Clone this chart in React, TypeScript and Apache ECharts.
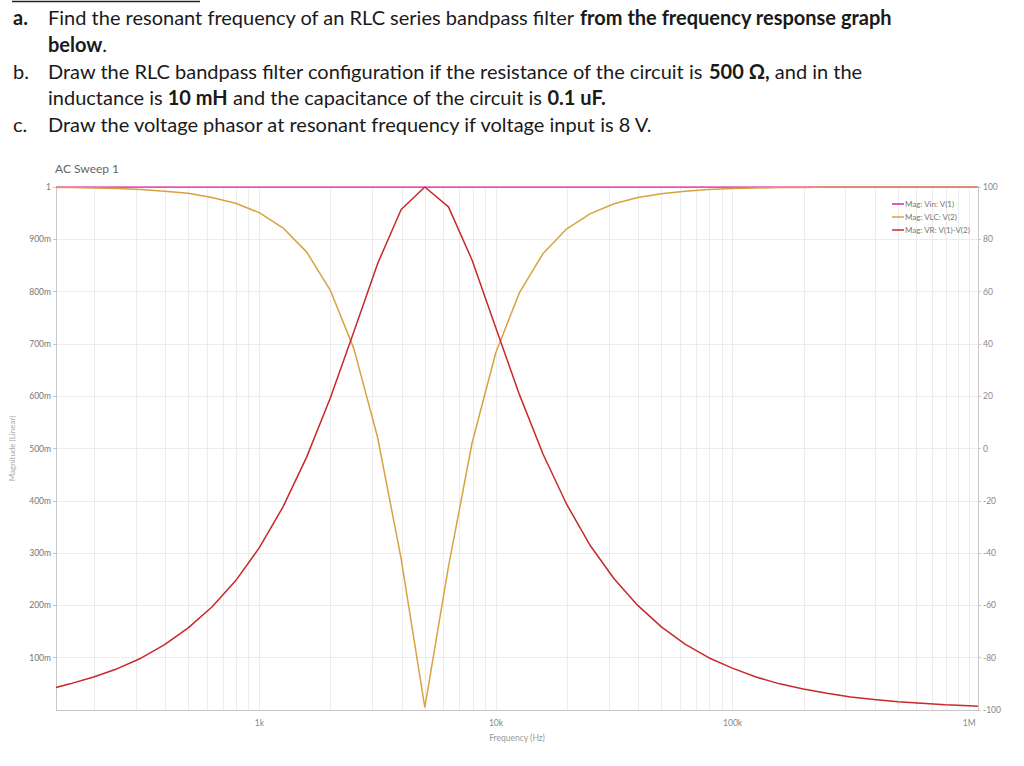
import React, { useEffect, useRef } from 'react';
import * as echarts from 'echarts';

// Sweep frequencies (Hz)
const freqs = [138, 158.1, 199.1, 250.6, 315.5, 397.2, 500, 629.5, 792.5, 997.6, 1256, 1581, 1991, 2506, 3155, 3972, 5000, 6295, 7924, 9976, 12559, 15811, 19905, 25059, 31548, 39716, 50000, 62946, 79245, 99763, 125594, 158114, 199054, 250594, 315479, 397164, 500000, 629463, 792447, 997631, 1090000];
// Mag: Vin: V(1)
const vin = [1, 1, 1, 1, 1, 1, 1, 1, 1, 1, 1, 1, 1, 1, 1, 1, 1, 1, 1, 1, 1, 1, 1, 1, 1, 1, 1, 1, 1, 1, 1, 1, 1, 1, 1, 1, 1, 1, 1, 1, 1];
// Mag: VLC: V(2)
const vlc = [0.999, 0.999, 0.998, 0.997, 0.995, 0.992, 0.988, 0.98, 0.969, 0.951, 0.922, 0.876, 0.803, 0.691, 0.522, 0.289, 0.005, 0.274, 0.511, 0.683, 0.798, 0.873, 0.92, 0.949, 0.968, 0.98, 0.987, 0.992, 0.995, 0.997, 0.998, 0.999, 0.999, 1, 1, 1, 1, 1, 1, 1, 1];
// Mag: VR: V(1)-V(2)
const vr = [0.043, 0.05, 0.063, 0.079, 0.099, 0.125, 0.157, 0.197, 0.247, 0.31, 0.388, 0.483, 0.596, 0.723, 0.853, 0.957, 1.0, 0.962, 0.86, 0.731, 0.603, 0.489, 0.393, 0.314, 0.251, 0.2, 0.159, 0.126, 0.1, 0.08, 0.063, 0.05, 0.04, 0.032, 0.025, 0.02, 0.016, 0.013, 0.01, 0.008, 0.007];

const seriesNames = ['Mag: Vin: V(1)', 'Mag: VLC: V(2)', 'Mag: VR: V(1)-V(2)'];
const seriesColors = ['#e0229f', '#d9a23e', '#c9282a'];

const xTickValues = [1000, 10000, 100000, 1000000];
const xTickLabels = ['1k', '10k', '100k', '1M'];
const gridFreqs = [200, 300, 400, 500, 600, 700, 800, 900, 1000, 2000, 3000, 4000, 5000, 6000, 7000, 8000, 9000, 10000, 20000, 30000, 40000, 50000, 60000, 70000, 80000, 90000, 100000, 200000, 300000, 400000, 500000, 600000, 700000, 800000, 900000, 1000000];

const questionLines = [
  { marker: 'a.', markerBold: true, parts: [['Find the resonant frequency of an RLC series bandpass filter ', false], ['from the frequency response graph', true]] },
  { marker: '', markerBold: false, parts: [['below', true], ['.', false]] },
  { marker: 'b.', markerBold: false, parts: [['Draw the RLC bandpass filter configuration if the resistance of the circuit is ', false], ['500 \u03a9,', true], [' and in the', false]] },
  { marker: '', markerBold: false, parts: [['inductance is ', false], ['10 mH', true], [' and the capacitance of the circuit is ', false], ['0.1 uF.', true]] },
  { marker: 'c.', markerBold: false, parts: [['Draw the voltage phasor at resonant frequency if voltage input is 8 V.', false]] },
];

export default function App() {
  const ref = useRef<HTMLDivElement>(null);
  useEffect(() => {
    if (!ref.current) return;
    const chart = echarts.init(ref.current, null, { renderer: 'svg' });
    const textFont = 'Lato, "Open Sans", sans-serif';
    const qSize = 20;
    const graphics: any[] = [
      { type: 'line', shape: { x1: 12, y1: 1.5, x2: 200, y2: 1.5 }, style: { stroke: '#222', lineWidth: 1.5 } },
      { type: 'text', x: 55, y: 168, style: { text: 'AC Sweep 1', fill: '#666', font: '12px Lato, sans-serif', verticalAlign: 'middle' } },
    ];
    questionLines.forEach((ln, i) => {
      const y = 17 + i * 26.8;
      if (ln.marker) {
        graphics.push({ type: 'text', x: 13, y, style: { text: ln.marker, fill: '#1a1a1a', fontFamily: textFont, fontSize: qSize, fontWeight: ln.markerBold ? 'bold' : 'normal', verticalAlign: 'middle' } });
      }
      const txt = ln.parts.map((p) => `{${p[1] ? 'b' : 'r'}|${p[0]}}`).join('');
      graphics.push({
        type: 'text', x: 48, y,
        style: {
          text: txt, fill: '#1a1a1a', fontFamily: textFont, fontSize: qSize, verticalAlign: 'middle',
          rich: {
            r: { fontFamily: textFont, fontSize: qSize, fill: '#1a1a1a' },
            b: { fontFamily: textFont, fontSize: qSize, fontWeight: 'bold', fill: '#1a1a1a' },
          },
        },
      });
    });

    const mk = (vals: number[]) => freqs.map((f, i) => [f, vals[i]]);
    const lineSeries = [vin, vlc, vr].map((vals, i) => ({
      name: seriesNames[i],
      type: 'line',
      data: mk(vals),
      symbol: 'none',
      lineStyle: { color: seriesColors[i], width: 1.5 },
      itemStyle: { color: seriesColors[i] },
      z: 3 + i,
    }));

    chart.setOption({
      animation: false,
      backgroundColor: '#fff',
      textStyle: { fontFamily: 'Lato, sans-serif' },
      graphic: graphics,
      grid: { left: 55, right: 46, top: 187, bottom: 56, containLabel: false },
      legend: {
        orient: 'vertical', left: 887, top: 194, itemGap: 3, itemWidth: 12, itemHeight: 1.5, icon: 'rect',
        data: seriesNames,
        textStyle: { fontSize: 8, color: '#777', lineHeight: 10, padding: [0, 0, 0, -4] },
      },
      xAxis: {
        type: 'log', logBase: 10, min: 138, max: 1090000,
        name: 'Frequency (Hz)', nameLocation: 'middle', nameGap: 23,
        nameTextStyle: { fontSize: 8.5, color: '#999' },
        axisLine: { lineStyle: { color: '#c8c8c8' } },
        axisTick: { show: false },
        splitLine: { show: false },
        axisLabel: {
          fontSize: 8.5, color: '#888', margin: 8, showMinLabel: false, showMaxLabel: false,
          formatter: (v: number) => {
            const idx = xTickValues.findIndex((t) => Math.abs(t - v) / t < 1e-6);
            return idx >= 0 ? xTickLabels[idx] : '';
          },
        },
      },
      yAxis: [
        {
          type: 'value', min: 0, max: 1, interval: 0.1, position: 'left',
          name: 'Magnitude (Linear)', nameLocation: 'middle', nameGap: 40, nameRotate: 90,
          nameTextStyle: { fontSize: 8, color: '#aaa' },
          axisLine: { show: true, lineStyle: { color: '#c8c8c8' } },
          axisTick: { show: true, length: 3, lineStyle: { color: '#c8c8c8' } },
          splitLine: { show: true, lineStyle: { color: '#ebebeb' } },
          axisLabel: {
            fontSize: 8.5, color: '#777', margin: 5, showMinLabel: false,
            formatter: (v: number) => (Math.abs(v - 1) < 1e-9 ? '1' : v < 1e-9 ? '' : `${Math.round(v * 1000)}m`),
          },
        },
        {
          type: 'value', min: -100, max: 100, interval: 20, position: 'right',
          axisLine: { show: true, lineStyle: { color: '#c8c8c8' } },
          axisTick: { show: true, length: 3, lineStyle: { color: '#c8c8c8' } },
          splitLine: { show: false },
          axisLabel: { fontSize: 8.5, color: '#888', margin: 5 },
        },
      ],
      series: [
        {
          name: 'grid', type: 'line', data: [], z: 1, silent: true,
          markLine: {
            silent: true, symbol: 'none', animation: false, z: 1,
            label: { show: false },
            lineStyle: { color: '#ececec', width: 1, type: 'solid' },
            emphasis: { disabled: true },
            data: gridFreqs.map((f) => ({ xAxis: f })),
          },
        },
        ...lineSeries,
      ],
    });
    return () => chart.dispose();
  }, []);
  return <div ref={ref} style={{ position: 'fixed', left: 0, top: 0, width: 1024, height: 766 }} />;
}
